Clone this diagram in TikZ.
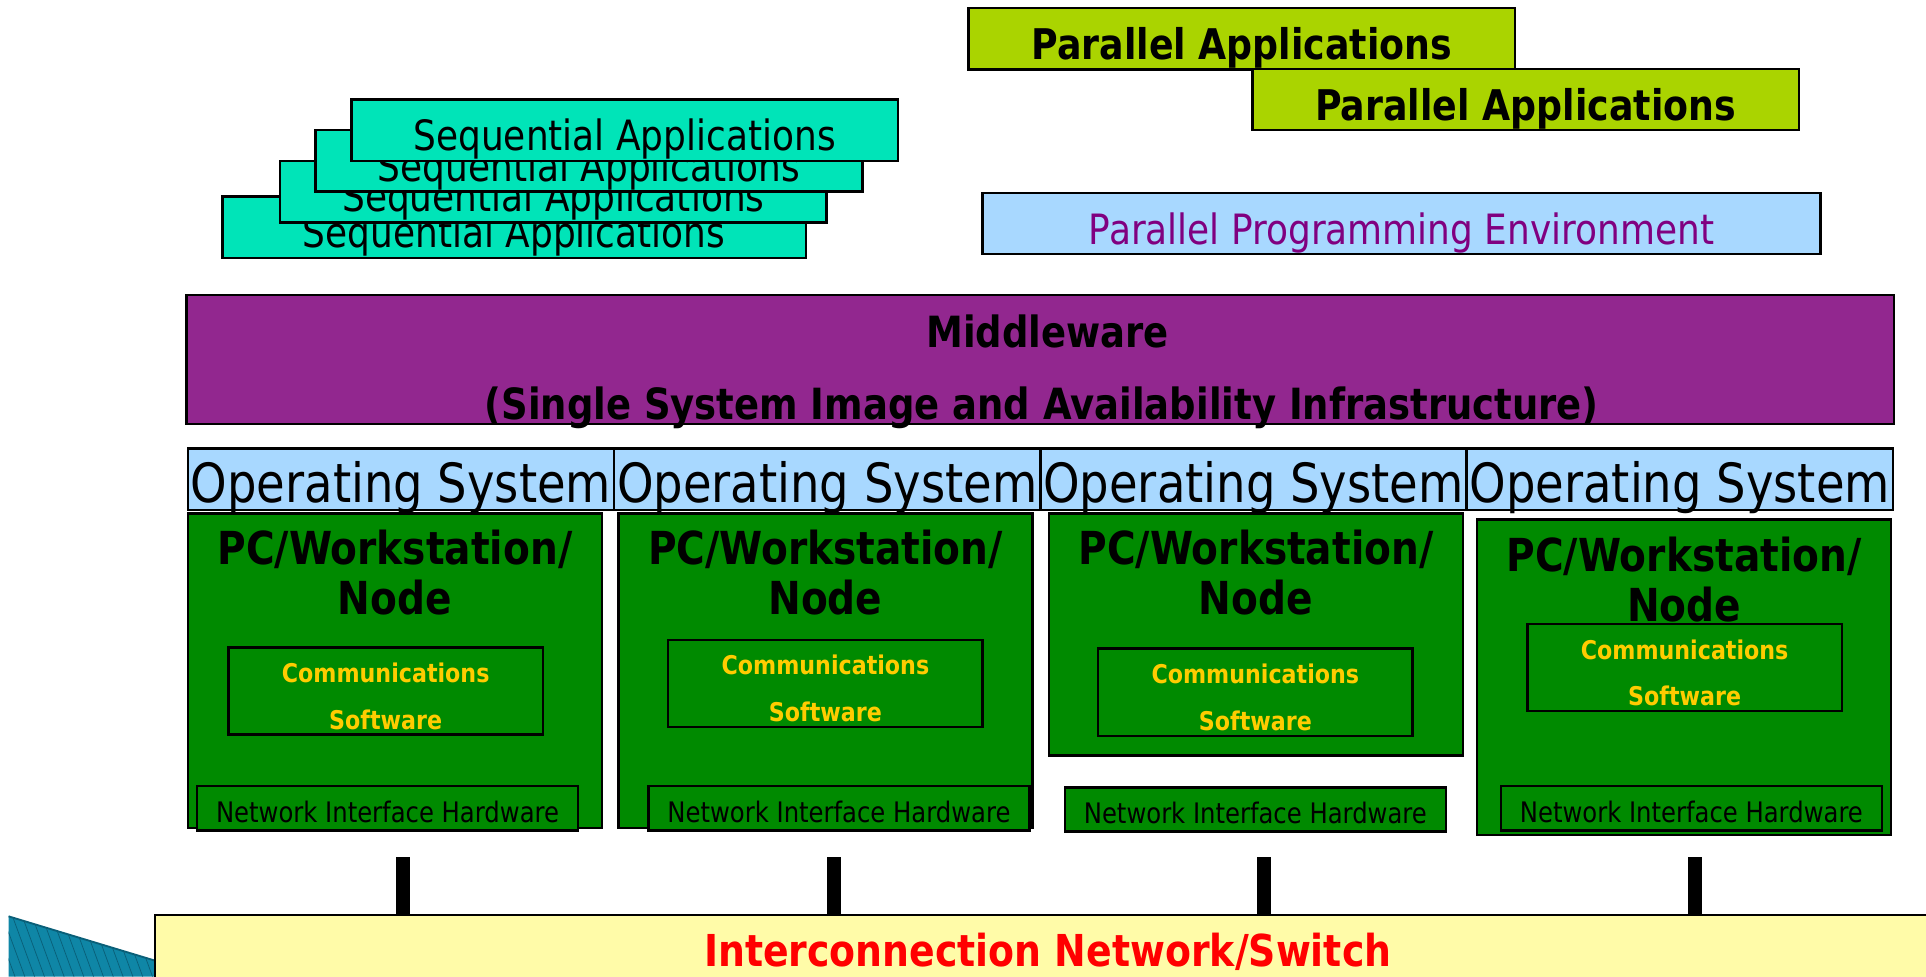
\documentclass[tikz,border=0pt]{standalone}
\usepackage{fontspec}
\setmainfont{DejaVu Sans}[FakeStretch=0.86]
\usetikzlibrary{positioning}
\definecolor{seqgreen}{HTML}{00E4B8}
\definecolor{parlime}{HTML}{AAD400}
\definecolor{paleblue}{HTML}{A8D8FF}
\definecolor{envpurple}{HTML}{800080}
\definecolor{midpurple}{HTML}{92278F}
\definecolor{nodegreen}{HTML}{008A00}
\definecolor{commyellow}{HTML}{FFCC00}
\definecolor{netyellow}{HTML}{FFFBA8}
\definecolor{tealblue}{HTML}{0F86A6}
\definecolor{tealdark}{HTML}{0A5F78}
\tikzset{
	box/.style={draw=black,line width=2pt,inner sep=0pt,outer sep=0pt},
	seqbox/.style={box,fill=seqgreen,minimum width=445pt,minimum height=50pt,text height=33pt,text depth=0pt,font=\fontsize{34}{40}\selectfont},
	parbox/.style={box,fill=parlime,minimum width=445pt,minimum height=50pt,text height=34pt,text depth=0pt,font=\bfseries\fontsize{34.4}{40}\selectfont},
	osbox/.style={box,fill=paleblue,minimum width=347pt,minimum height=50pt,text height=38pt,text depth=0pt,font=\fontsize{44}{50}\selectfont},
	pcbox/.style={box,fill=nodegreen,minimum width=337pt},
	pctitle/.style={align=center,font=\bfseries\fontsize{37}{41}\selectfont},
	commbox/.style={box,fill=nodegreen,minimum width=256pt,minimum height=71pt,align=center,text=commyellow,text height=62pt,text depth=0pt,font=\bfseries\fontsize{21}{38}\selectfont},
	nicbox/.style={box,fill=nodegreen,minimum width=310pt,minimum height=36pt,text height=22.5pt,text depth=0pt,font=\fontsize{23}{28}\selectfont},
	linkbar/.style={line width=12pt}
}
\begin{document}
\begin{tikzpicture}[x=1pt,y=-1pt]
	\useasboundingbox (0,0) rectangle (1568,795);
	\clip (0,0) rectangle (1568,795);
	\begin{scope}
		\clip (7,746) -- (126,782) -- (126,795) -- (7,795) -- cycle;
		\fill[tealblue] (0,740) rectangle (130,800);
		\foreach \t in {-40,-32,...,130}
		\draw[tealdark,line width=0.6pt] (\t,740)--(\t+22,800);
	\end{scope}
	\draw[tealdark,line width=1.5pt] (7,746)--(126,782);
	\node[seqbox,minimum width=475pt] (seq1) at (418.5,185) {Sequential Applications};
	\foreach \i/\x/\y in {2/450.5/156,3/479.5/131,4/508.5/106}
	\node[seqbox] (seq\i) at (\x,\y) {Sequential Applications};
	\node[parbox] (par1) at (1011,31.5) {Parallel Applications};
	\node[parbox] (par2) at (1242,81) {Parallel Applications};
	\node[box,fill=paleblue,minimum width=682pt,minimum height=50pt,text=envpurple,text height=34.5pt,text depth=0pt,font=\fontsize{34}{40}\selectfont] (ppe) at (1141,182) {Parallel Programming Environment};
	\node[box,fill=midpurple,minimum width=1390pt,minimum height=105pt] (mid) at (847,292.5) {};
	\node[font=\bfseries\fontsize{35}{40}\selectfont] (midtitle) at (853,270) {Middleware};
	\node[font=\bfseries\fontsize{35}{40}\selectfont] (midsub) at (848,332) {(Single System Image and Availability Infrastructure)};
	\foreach \i in {1,...,4}
	\node[osbox] (os\i) at ({153+347*(\i-0.5)},390) {Operating System};
	\foreach \i/\x/\y/\h/\ty in {1/321.5/546/256/466,2/672/546/256/466,3/1022.5/516.5/197/466,4/1371/551.5/257/472}{
		\node[pcbox,minimum height=\h pt] (pc\i) at (\x,\y) {};
		\node[pctitle] (pctitle\i) at (\x,\ty) {PC/Workstation/\\Node};
	}
	\foreach \i/\x/\y in {1/314/562.5,2/672/556.5,3/1022/563.5,4/1371.5/543.5}
	\node[commbox] (comm\i) at (\x,\y) {Communications\\Software};
	\foreach \i/\x/\y in {1/315.5/658,2/683/658,3/1022/659,4/1377/658}
	\node[nicbox] (nic\i) at (\x,\y) {Network Interface Hardware};
	\node[box,fill=netyellow,minimum width=1480pt,minimum height=80pt,anchor=north west] (net) at (126,745) {};
	\node[text=red,font=\bfseries\fontsize{35.8}{40}\selectfont] (nettext) at (853,775) {Interconnection Network/Switch};
	\foreach \i/\x in {1/328,2/679,3/1029,4/1380}{
		\coordinate (tap\i) at (\x,698);
		\draw[linkbar] (tap\i) -- (tap\i |- net.north);
	}
\end{tikzpicture}
\end{document}
